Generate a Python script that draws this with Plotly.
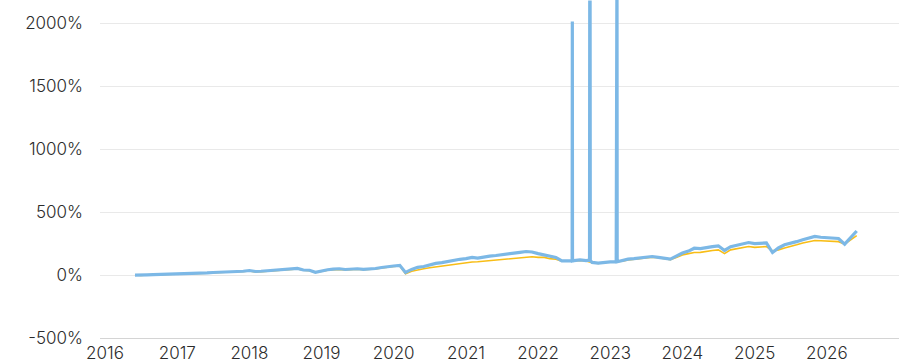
import pandas as pd
import plotly.graph_objects as go

BLUE = "#7cb8e6"
GOLD = "#f8bd16"
GRID = "#e9e9e9"
TEXT = "#2b2b2b"

# monthly points, Jun 2016 .. Jun 2026 (values in %)
months = pd.date_range("2016-06-01", "2026-06-01", freq="MS").strftime("%Y-%m-%d").tolist()

blue_vals = [
    0, -2, 2, 3, 4, 5, 8,
    8, 10, 12, 13, 15, 17, 20, 21, 22, 25, 28, 30,
    36, 28, 30, 33, 36, 40, 45, 50, 53, 40, 38, 22,
    35, 42, 47, 50, 44, 48, 50, 45, 47, 52, 60, 68,
    72, 77, 21, 45, 61, 68, 80, 92, 98, 108, 120, 125,
    130, 140, 135, 145, 150, 155, 160, 169, 170, 180, 187, 183,
    170, 161, 150, 140, 113, 110, 115, 121, 115, 100, 95, 103,
    105, 110, 115, 126, 130, 135, 140, 147, 140, 135, 126, 150,
    175, 190, 213, 210, 220, 225, 232, 195, 225, 235, 245, 258,
    250, 253, 255, 179, 215, 240, 250, 265, 280, 290, 306, 300,
    298, 295, 290, 245, 300, 350,
]

gold_vals = [
    0, -3, 1, 2, 3, 4, 6,
    6, 8, 10, 11, 13, 15, 18, 19, 20, 23, 26, 28,
    33, 25, 27, 30, 32, 35, 38, 44, 48, 38, 35, 20,
    32, 38, 42, 45, 40, 44, 46, 42, 44, 48, 56, 64,
    68, 72, 10, 30, 42, 50, 58, 65, 70, 74, 85, 90,
    95, 103, 105, 110, 115, 118, 121, 125, 130, 140, 142, 145,
    140, 140, 130, 125, 110, 108, 112, 115, 112, 98, 92, 100,
    102, 105, 110, 120, 125, 130, 135, 142, 138, 130, 122, 140,
    160, 170, 179, 180, 190, 195, 200, 170, 200, 210, 218, 227,
    220, 223, 226, 192, 200, 215, 225, 240, 255, 262, 274, 272,
    271, 268, 265, 245, 280, 313,
]

# single-day outliers in the blue series
spike_dates = ["2022-06-22", "2022-06-23", "2022-06-24",
               "2022-09-18", "2022-09-19", "2022-09-21", "2022-09-22",
               "2023-01-31", "2023-02-01", "2023-02-04", "2023-02-05"]
spike_vals = [112, 2013, 112,
              118, 2168, 2168, 116,
              104, 2600, 2600, 106]

y_ticks = [-500, 0, 500, 1000, 1500, 2000]
y_labels = [f"{v}%" for v in y_ticks]

blue = pd.DataFrame({"date": months + spike_dates, "value": blue_vals + spike_vals})
blue["date"] = pd.to_datetime(blue["date"])
blue = blue.sort_values("date")

fig = go.Figure()
fig.add_trace(go.Scatter(x=months, y=gold_vals, mode="lines",
                         line=dict(color=GOLD, width=1.6), name="benchmark"))
fig.add_trace(go.Scatter(x=blue["date"], y=blue["value"], mode="lines",
                         line=dict(color=BLUE, width=3.2), name="portfolio"))

fig.update_layout(
    width=899, height=363,
    margin=dict(l=100, r=0, t=0, b=23),
    plot_bgcolor="white", paper_bgcolor="white",
    showlegend=False,
    font=dict(family="Inter, Lato, sans-serif", size=17, color=TEXT, weight=300),
    xaxis=dict(range=["2015-12-07", "2027-01-01"], dtick="M12", tickformat="%Y",
               tick0="2016-01-01", showgrid=False, showline=True, linecolor="#d4d4d4",
               linewidth=1, ticks="", ticklabelstandoff=0),
    yaxis=dict(range=[-500, 2184], tickmode="array", tickvals=y_ticks, ticktext=y_labels,
               showgrid=True, gridcolor=GRID, gridwidth=1,
               zeroline=False, showline=False, ticks="", ticklabelstandoff=16),
)

# page body has an 8px default margin; drop it so the chart sits at the corner
fig.write_html("out.html", config={"displayModeBar": False},
               post_script="document.body.style.margin='0';")
